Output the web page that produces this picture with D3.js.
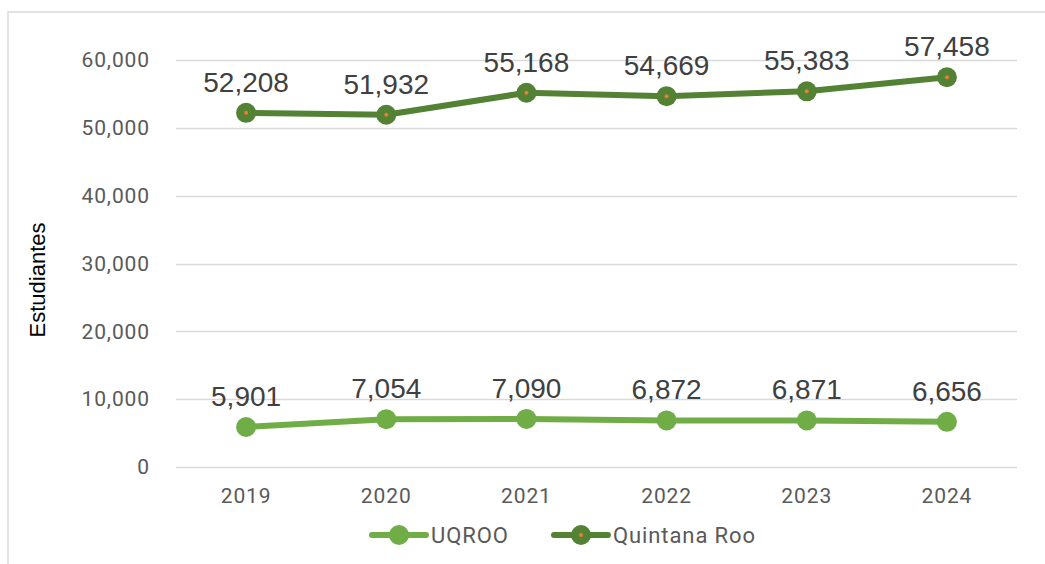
<!DOCTYPE html>
<html>
<head>
<meta charset="utf-8">
<script src="https://cdn.jsdelivr.net/npm/d3@7"></script>
<style>
  html, body { margin: 0; padding: 0; background: #fff; }
  svg { display: block; }
</style>
</head>
<body>
<div id="chart"></div>
<script>
// Chart data
const years = ["2019", "2020", "2021", "2022", "2023", "2024"]
const uqroo = [5901, 7054, 7090, 6872, 6871, 6656]
const quintanaRoo = [52208, 51932, 55168, 54669, 55383, 57458]
const yTicks = [0, 10000, 20000, 30000, 40000, 50000, 60000]
const seriesNames = ["UQROO", "Quintana Roo"]

const width = 1045
const height = 564
const margin = { top: 60, right: 28, bottom: 97, left: 176 }

const colors = {
  uqroo: "#70ad47",
  quintanaRoo: "#548235",
  accent: "#ed7d31",
  grid: "#d9d9d9",
  tick: "#595959",
  label: "#404040"
}

const tickFont = "Roboto, sans-serif"

const svg = d3.select("#chart")
  .append("svg")
  .attr("width", width)
  .attr("height", height)

// Outer chart border (only top and left visible in the frame)
svg.append("path")
  .attr("d", `M8,${height + 2} L8,12 L${width + 2},12`)
  .attr("fill", "none")
  .attr("stroke", colors.grid)
  .attr("stroke-width", 1.5)

const x = d3.scaleBand()
  .domain(years)
  .range([margin.left, width - margin.right])

const y = d3.scaleLinear()
  .domain([0, 60000])
  .range([height - margin.bottom, margin.top])

const fmt = d3.format(",")

// Gridlines
svg.append("g")
  .selectAll("line")
  .data(yTicks)
  .join("line")
  .attr("x1", margin.left)
  .attr("x2", width - margin.right)
  .attr("y1", d => Math.round(y(d)) + 0.5)
  .attr("y2", d => Math.round(y(d)) + 0.5)
  .attr("stroke", colors.grid)
  .attr("stroke-width", 1.3)

// Y axis labels
const yAxis = svg.append("g")
  .attr("transform", `translate(${margin.left},0)`)
  .call(d3.axisLeft(y).tickValues(yTicks).tickFormat(fmt).tickSize(0).tickPadding(26))
yAxis.select(".domain").remove()
yAxis.selectAll("text")
  .attr("font-family", tickFont)
  .attr("font-size", "21px")
  .attr("letter-spacing", "0.9px")
  .attr("fill", colors.tick)

// X axis labels
const xAxis = svg.append("g")
  .attr("transform", `translate(0,${height - margin.bottom})`)
  .call(d3.axisBottom(x).tickSize(0).tickPadding(21))
xAxis.select(".domain").remove()
xAxis.selectAll("text")
  .attr("font-family", tickFont)
  .attr("font-size", "21px")
  .attr("letter-spacing", "0.9px")
  .attr("fill", colors.tick)

// Axis title
svg.append("text")
  .attr("transform", `translate(45,280) rotate(-90)`)
  .attr("text-anchor", "middle")
  .attr("font-family", "Liberation Sans, Arial, sans-serif")
  .attr("font-size", "22px")
  .attr("fill", "#000")
  .text("Estudiantes")

const cx = d => x(d) + x.bandwidth() / 2

const line = d3.line()
  .x((d, i) => cx(years[i]))
  .y(d => y(d))

function drawSeries(values, color, withDot) {
  svg.append("path")
    .datum(values)
    .attr("fill", "none")
    .attr("stroke", color)
    .attr("stroke-width", 6)
    .attr("stroke-linecap", "round")
    .attr("stroke-linejoin", "round")
    .attr("d", line)

  svg.append("g")
    .selectAll("circle")
    .data(values)
    .join("circle")
    .attr("cx", (d, i) => cx(years[i]))
    .attr("cy", d => y(d))
    .attr("r", 10)
    .attr("fill", color)

  if (withDot) {
    svg.append("g")
      .selectAll("circle")
      .data(values)
      .join("circle")
      .attr("cx", (d, i) => cx(years[i]))
      .attr("cy", d => y(d))
      .attr("r", 2)
      .attr("fill", colors.accent)
  }

  svg.append("g")
    .selectAll("text")
    .data(values)
    .join("text")
    .attr("x", (d, i) => cx(years[i]))
    .attr("y", d => y(d) - 21)
    .attr("text-anchor", "middle")
    .attr("font-family", "Liberation Sans, Arial, sans-serif")
    .attr("font-size", "28px")
    .attr("fill", colors.label)
    .text(d => fmt(d))
}

drawSeries(uqroo, colors.uqroo, false)
drawSeries(quintanaRoo, colors.quintanaRoo, true)

// Legend
const legendY = 535
const legendItems = [
  { name: seriesNames[0], color: colors.uqroo, dot: false, x: 370 },
  { name: seriesNames[1], color: colors.quintanaRoo, dot: true, x: 552 }
]
const legend = svg.append("g")
legendItems.forEach(item => {
  const g = legend.append("g").attr("transform", `translate(${item.x},${legendY})`)
  g.append("line")
    .attr("x1", 2).attr("x2", 56)
    .attr("stroke", item.color)
    .attr("stroke-width", 6)
    .attr("stroke-linecap", "round")
  g.append("circle").attr("cx", 29).attr("r", 10).attr("fill", item.color)
  if (item.dot) g.append("circle").attr("cx", 29).attr("r", 2).attr("fill", colors.accent)
  g.append("text")
    .attr("x", 61)
    .attr("dy", "0.35em")
    .attr("font-family", tickFont)
    .attr("font-size", "22px")
    .attr("letter-spacing", "0.9px")
    .attr("fill", colors.tick)
    .text(item.name)
})
</script>
</body>
</html>
